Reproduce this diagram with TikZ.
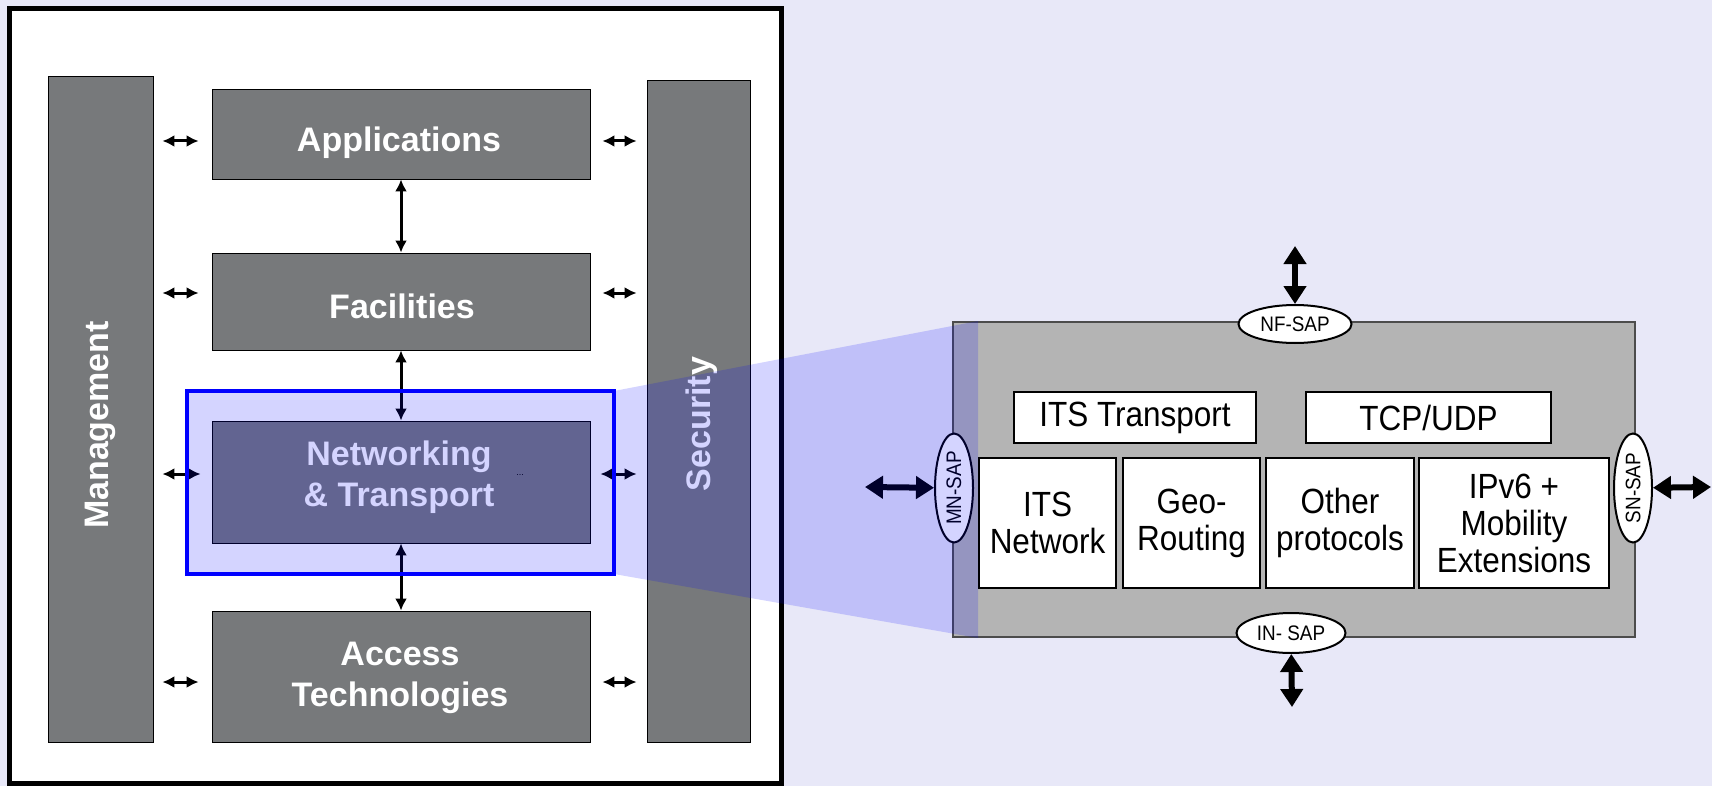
\documentclass[tikz,border=0pt]{standalone}
\usepackage{fontspec}
\setmainfont{Liberation Sans}
\newfontfamily\narrowsf[FakeStretch=0.9]{Liberation Sans}
\usetikzlibrary{arrows.meta,shapes.geometric}
\definecolor{bglav}{RGB}{232,232,248}
\definecolor{layergray}{RGB}{119,121,123}
\definecolor{netgray}{RGB}{180,180,180}

\begin{document}
\begin{tikzpicture}[x=1pt,y=-1pt]
        \useasboundingbox (0,0) rectangle (1712,786);
        \fill[bglav] (0,0) rectangle (1712,786);
        \draw[line width=5, fill=white] (9,9) rectangle (781,783);
        % layers of the station
        \begin{scope}
            \tikzstyle{every node}=[fill=layergray, draw=black, line width=0.8, rectangle, inner sep=0]
            \node[minimum width=105, minimum height=666] (mgmt) at (100.5,409) {};
            \node[minimum width=103, minimum height=662] (sec) at (698.5,411) {};
            \node[minimum width=378, minimum height=90] (app) at (401,134) {};
            \node[minimum width=378, minimum height=97] (fac) at (401,301.5) {};
            \node[minimum width=378, minimum height=122] (net) at (401,482) {};
            \node[minimum width=378, minimum height=131] (acc) at (401,676.5) {};
        \end{scope}
        \begin{scope}
            \tikzstyle{every node}=[text=white, align=center, font=\bfseries\fontsize{34}{41}\selectfont]
            \node (apptxt) at (399,143) {Applications};
            \node (factxt) at (402,306.5) {Facilities};
            \node (nettxt) at (399,477.5) {Networking\\\& Transport};
            \node (acctxt) at (400,678) {Access\\Technologies};
            \node[rotate=90] (mgmttxt) at (100,425) {Management};
            \node[rotate=90] (sectxt) at (702,424) {Security};
            \node[text=black, font=\fontsize{9}{9}\selectfont] (dots) at (520,475) {...};
        \end{scope}
        \begin{scope}
            \tikzstyle{every edge}=[draw, line width=3, <->, >={Latex[length=12pt,width=12pt]}]
            \path
            ([yshift=-7]mgmt.east |- app.west) edge[shorten <=9, shorten >=13] ([yshift=-7]app.west)
            ([yshift=8.5]mgmt.east |- fac.west) edge[shorten <=9, shorten >=13] ([yshift=8.5]fac.west)
            ([yshift=8]mgmt.east |- net.west) edge[shorten <=9, shorten >=11] ([yshift=8]net.west)
            ([yshift=-5.5]mgmt.east |- acc.west) edge[shorten <=9, shorten >=13] ([yshift=-5.5]acc.west)
            ([yshift=-7]app.east) edge[shorten <=12, shorten >=10] ([yshift=-7]sec.west |- app.east)
            ([yshift=8.5]fac.east) edge[shorten <=12, shorten >=10] ([yshift=8.5]sec.west |- fac.east)
            ([yshift=8]net.east) edge[shorten <=10, shorten >=10] ([yshift=8]sec.west |- net.east)
            ([yshift=-5.5]acc.east) edge[shorten <=12, shorten >=10] ([yshift=-5.5]sec.west |- acc.east)
            (app) edge (fac)
            (fac) edge (net)
            (net) edge (acc)
            ;
        \end{scope}
        % networking & transport in detail
        \begin{scope}
            \tikzstyle{every node}=[draw=black, line width=2, fill=white, rectangle, inner sep=0, align=center, font=\narrowsf\fontsize{35}{37}\selectfont]
            \node[fill=netgray, draw=black!70, minimum width=682, minimum height=315] (nt) at (1294,479.5) {};
            \node[minimum width=242, minimum height=51] (itstp) at (1135,417.5) {ITS Transport};
            \node[minimum width=245, minimum height=51] (tcp) at (1428.5,417.5) {TCP/UDP};
            \node[minimum width=137, minimum height=130] (itsnet) at (1047.5,523) {ITS\\Network};
            \node[minimum width=137, minimum height=130] (geo) at (1191.5,523) {Geo-\\Routing};
            \node[minimum width=148, minimum height=130] (other) at (1340,523) {Other\\protocols};
            \node[minimum width=190, minimum height=130] (ipv6) at (1514,523) {IPv6 +\\Mobility\\Extensions};
        \end{scope}
        \begin{scope}
            \tikzstyle{every node}=[ellipse, draw=black, line width=2, fill=white, inner sep=0, font=\narrowsf\fontsize{21}{23}\selectfont]
            \node[minimum width=113, minimum height=38] (nfsap) at (1295,324) {NF-SAP};
            \node[minimum width=109, minimum height=40] (insap) at (1291,633) {IN- SAP};
            \node[rotate=90, minimum width=109, minimum height=38] (mnsap) at (954,488) {MN-SAP};
            \node[rotate=90, minimum width=109, minimum height=38] (snsap) at (1633,488) {SN-SAP};
        \end{scope}
        \coordinate (nftop) at (1295,246);
        \coordinate (inbot) at (1292,707);
        \coordinate (mnend) at (865,487);
        \coordinate (snend) at (1711,487);
        \begin{scope}
            \tikzstyle{every edge}=[draw, line width=6, <->, >={Triangle[length=18pt,width=22pt]}]
            \path
            (nfsap) edge (nftop)
            (insap) edge (inbot)
            (mnsap) edge (mnend)
            (snsap) edge (snend)
            ;
        \end{scope}
        % zoom from the layer to the detail
        \node[draw=blue, line width=3.5, fill=blue, fill opacity=0.17, outer sep=0, inner sep=0, minimum width=427, minimum height=183] (netzoom) at (400.5,482.5) {};
        \fill[blue, fill opacity=0.17] (netzoom.north east) -- (978,321) -- (978,638) -- (netzoom.south east) -- cycle;
    \end{tikzpicture}
\end{document}
